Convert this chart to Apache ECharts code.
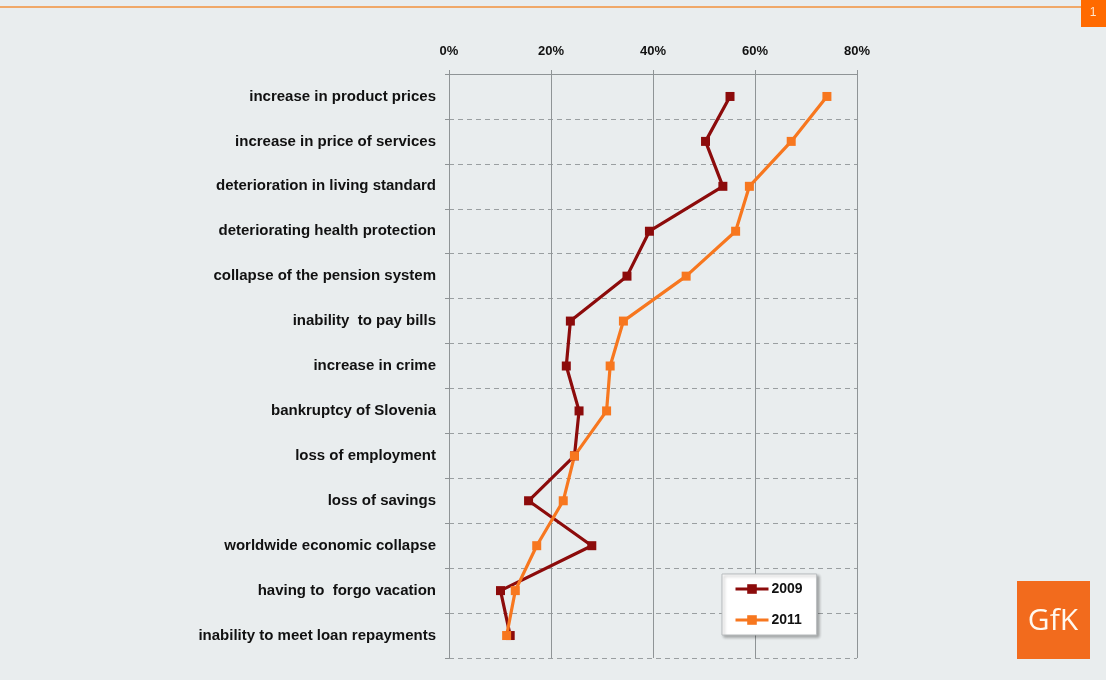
<!DOCTYPE html>
<html>
<head>
<meta charset="utf-8">
<script src="https://cdn.jsdelivr.net/npm/echarts@6/dist/echarts.min.js"></script>
<style>
html,body{margin:0;padding:0;background:#e9edee;}
#chart{width:1106px;height:680px;}
</style>
</head>
<body>
<div id="chart"></div>
<script>
var categories = [
  "increase in product prices",
  "increase in price of services",
  "deterioration in living standard",
  "deteriorating health protection",
  "collapse of the pension system",
  "inability  to pay bills",
  "increase in crime",
  "bankruptcy of Slovenia",
  "loss of employment",
  "loss of savings",
  "worldwide economic collapse",
  "having to  forgo vacation",
  "inability to meet loan repayments"
];
var values2009 = [55.1, 50.3, 53.7, 39.3, 34.9, 23.8, 23.0, 25.5, 24.6, 15.6, 28.0, 10.1, 12.0];
var values2011 = [74.1, 67.1, 58.9, 56.2, 46.5, 34.2, 31.6, 30.9, 24.6, 22.4, 17.2, 13.0, 11.3];
var seriesNames = ["2009", "2011"];
var valueTicks = [0, 20, 40, 60, 80];

var chart = echarts.init(document.getElementById('chart'));
var fontFam = '"Liberation Sans", Arial, sans-serif';
chart.setOption({
  backgroundColor: '#e9edee',
  animation: false,
  grid: {left: 449, right: 249, top: 74, bottom: 22, containLabel: false},
  xAxis: {
    type: 'value', position: 'top',
    min: valueTicks[0], max: valueTicks[valueTicks.length-1], interval: 20,
    axisLine: {show: true, lineStyle: {color: '#8f9496', width: 1}},
    axisTick: {show: true, length: 4, inside: false, lineStyle: {color: '#8f9496'}},
    axisLabel: {formatter: '{value}%', color: '#111', fontWeight: 'bold', fontSize: 13, fontFamily: fontFam, margin: 16},
    splitLine: {show: true, lineStyle: {color: '#8f9496', width: 1}}
  },
  yAxis: {
    type: 'category', inverse: true, data: categories,
    axisLine: {show: true, lineStyle: {color: '#8f9496', width: 1}},
    axisTick: {show: true, length: 4, lineStyle: {color: '#8f9496'}},
    axisLabel: {color: '#111', fontWeight: 'bold', fontSize: 15, fontFamily: fontFam, margin: 13},
    splitLine: {show: true, lineStyle: {color: '#9a9fa1', type: [5, 4], width: 1}}
  },
  legend: {
    left: 722, top: 574, orient: 'vertical',
    width: 96,
    backgroundColor: '#ffffff', borderColor: '#b8bcbe', borderWidth: 1,
    shadowColor: 'rgba(0,0,0,0.3)', shadowBlur: 3, shadowOffsetX: 2, shadowOffsetY: 2,
    padding: [8, 14, 8, 12],
    itemWidth: 33, itemHeight: 12, itemGap: 17,
    lineStyle: {width: 3},
    textStyle: {color: '#111', fontWeight: 'bold', fontSize: 14, fontFamily: fontFam, padding: [0, 0, 0, -2]},
    data: seriesNames
  },
  series: [
    {name: seriesNames[0], type: 'line', data: values2009,
     color: '#8c0b0b', symbol: 'rect', symbolSize: 9,
     lineStyle: {width: 3.2, color: '#8c0b0b'}, itemStyle: {color: '#8c0b0b'}},
    {name: seriesNames[1], type: 'line', data: values2011,
     color: '#f7771f', symbol: 'rect', symbolSize: 9,
     lineStyle: {width: 3.2, color: '#f7771f'}, itemStyle: {color: '#f7771f'}}
  ],
  graphic: [
    {type: 'rect', shape: {x: 0, y: 6, width: 1081, height: 2}, style: {fill: '#f0a868'}},
    {type: 'rect', shape: {x: 1081, y: 0, width: 25, height: 27}, style: {fill: '#ff6a00'}},
    {type: 'text', x: 1093, y: 13, style: {text: '1', fill: '#ffe8d0', fontSize: 12, fontFamily: 'Liberation Sans, Arial', align: 'center', verticalAlign: 'middle'}},
    {type: 'rect', shape: {x: 1017, y: 581, width: 73, height: 78}, style: {fill: '#f26b1d'}},
    {type: 'text', x: 1053, y: 621, style: {text: 'GfK', fill: '#fff8ee', fontSize: 30, fontFamily: '"Open Sans", "Noto Sans", sans-serif', align: 'center', verticalAlign: 'middle'}}
  ]
});
</script>
</body>
</html>
